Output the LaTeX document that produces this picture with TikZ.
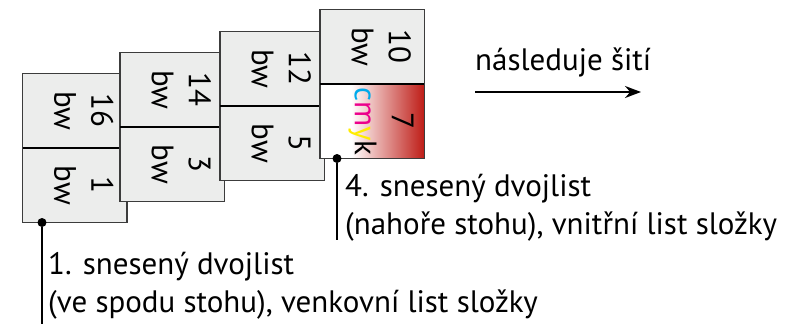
\documentclass[tikz,border=0pt]{standalone}
\usepackage{fontspec}
\setmainfont{PT Sans}
\usetikzlibrary{positioning, arrows.meta}

\definecolor{sheetgray}{HTML}{ECEDEC}
\definecolor{edgegray}{HTML}{3C3C3C}
\definecolor{printred}{RGB}{190,28,22}
\definecolor{cmykc}{RGB}{0,170,235}
\definecolor{cmykm}{RGB}{236,0,140}
\definecolor{cmyky}{RGB}{255,236,0}
\pgfdeclarehorizontalshading{redfade}{100bp}{color(0bp)=(white); color(40bp)=(white); color(75bp)=(printred); color(100bp)=(printred)}

\begin{document}
\begin{tikzpicture}[x=1pt, y=-1pt, node distance=0pt,
    half/.style={draw=edgegray, line width=1.3pt, fill=sheetgray, anchor=north west,
        minimum width=104.3pt, minimum height=74.5pt, inner sep=0pt, outer sep=0pt},
    fold/.style={line width=2pt, black},
    pagelbl/.style={rotate=-90, align=center, inner sep=0pt, font=\fontsize{31}{37}\selectfont},
    note/.style={align=left, anchor=north west, inner sep=0pt, font=\fontsize{31}{38}\selectfont},
    dot/.style={circle, fill=black, minimum size=9pt, inner sep=0pt},
    pinline/.style={line width=2.6pt, black}]
    \useasboundingbox (0,0) rectangle (791,324);

    % Sheet 1 (bottom of the stack)
    \node[half] (s1top) at (22.7,73.5) {};
    \node[half, below=of s1top] (s1bot) {};
    \draw[fold] (s1top.south west) -- (s1top.south east);
    \node[pagelbl] (l16) at ([xshift=9pt]s1top.center) {16\\bw};
    \node[pagelbl] (l1) at ([xshift=9pt]s1bot.center) {1\\bw};

    % Sheet 2
    \node[half] (s2top) at (120,52.5) {};
    \node[half, below=of s2top] (s2bot) {};
    \draw[fold] (s2top.south west) -- (s2top.south east);
    \node[pagelbl] (l14) at ([xshift=9pt]s2top.center) {14\\bw};
    \node[pagelbl] (l3) at ([xshift=9pt]s2bot.center) {3\\bw};

    % Sheet 3
    \node[half] (s3top) at (220,31.5) {};
    \node[half, below=of s3top] (s3bot) {};
    \draw[fold] (s3top.south west) -- (s3top.south east);
    \node[pagelbl] (l12) at ([xshift=9pt]s3top.center) {12\\bw};
    \node[pagelbl] (l5) at ([xshift=9pt]s3bot.center) {5\\bw};

    % Sheet 4 (top of the stack)
    \node[half] (s4top) at (320,9.5) {};
    \node[half, below=of s4top, shading=redfade] (s4bot) {};
    \draw[fold] (s4top.south west) -- (s4top.south east);
    \node[pagelbl] (l10) at ([xshift=9pt]s4top.center) {10\\bw};
    \node[pagelbl] (l7) at ([xshift=9pt]s4bot.center)
        {7\\{\color{cmykc}c\color{cmykm}m\color{cmyky}y\color{black}k}};

    % Pins and notes
    \node[dot] (pin1) at ([xshift=19.3pt]s1bot.south west) {};
    \coordinate (end1) at (42,324);
    \draw[pinline] (pin1) -- (end1);
    \node[dot] (pin4) at ([xshift=17pt]s4bot.south west) {};
    \coordinate (end4) at (337,240);
    \draw[pinline] (pin4) -- (end4);
    \node[note] (n4) at (345,174) {4. snesený dvojlist\\(nahoře stohu), vnitřní list složky};
    \node[note] (n1) at (48,252) {1. snesený dvojlist\\(ve spodu stohu), venkovní list složky};

    % Sewing comes next
    \node[note, anchor=base west] (next) at (475,70) {následuje šití};
    \coordinate (arrA) at (475,92);
    \coordinate (arrB) at (641,92);
    \draw[-{Stealth[length=16pt, width=12pt]}, line width=2pt] (arrA) -- (arrB);
\end{tikzpicture}
\end{document}
